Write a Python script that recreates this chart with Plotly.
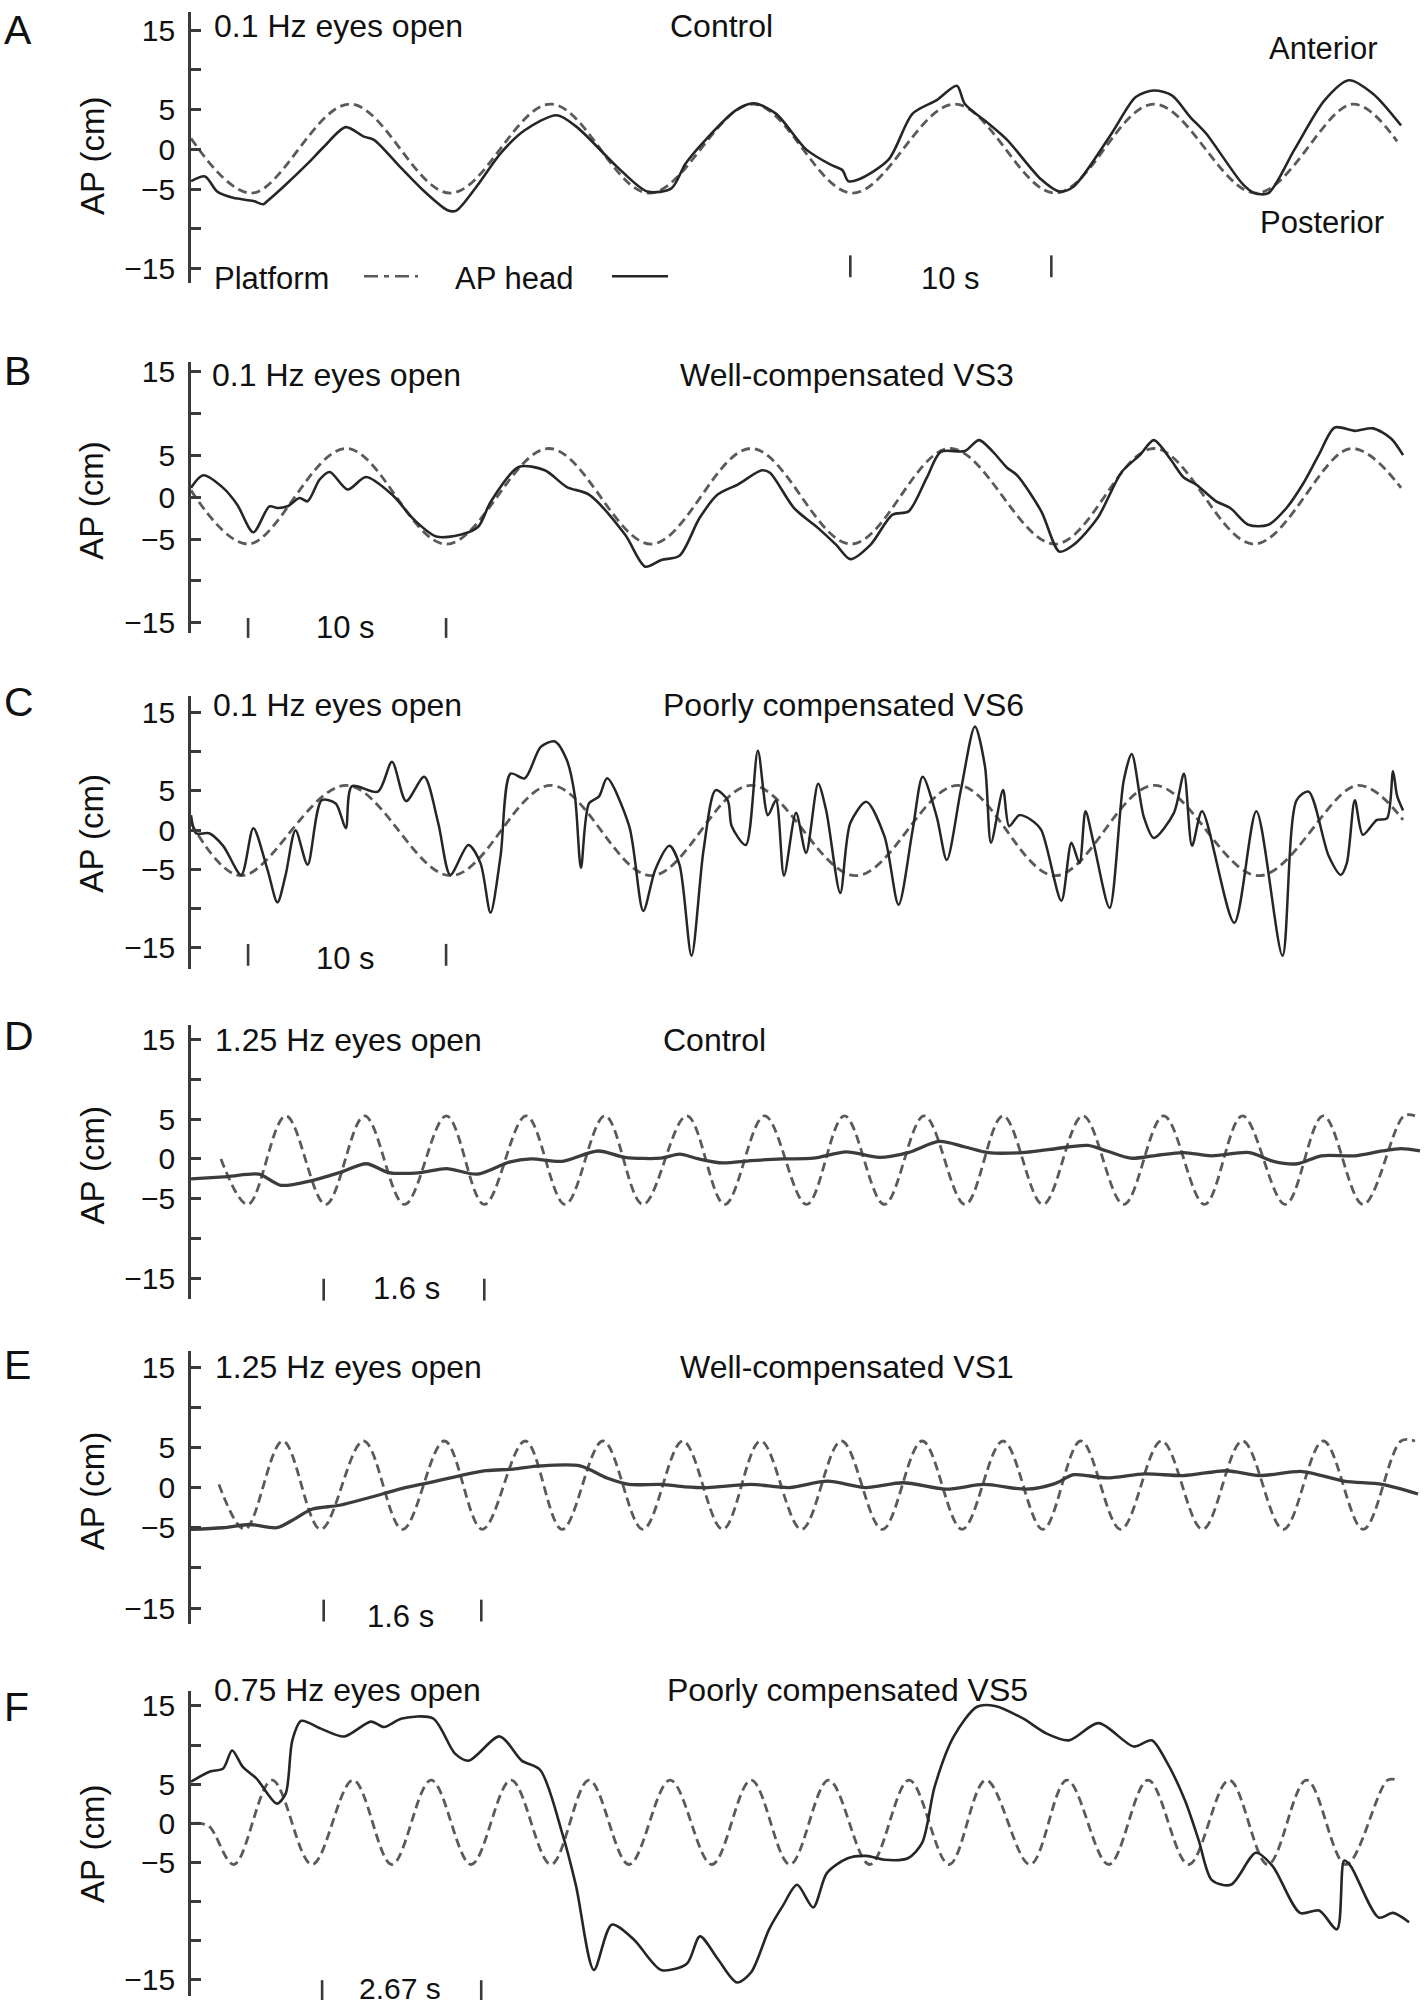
import plotly.graph_objects as go

W, H = 1424, 2015
FONT = "Liberation Sans, Arial, Helvetica, sans-serif"
SOLID_C = "#262626"
DASH_C = "#5a5a5a"
AXIS_C = "#3a3a3a"
TEXT_C = "#111111"

# ---------------- data (time in s, AP in cm) ----------------
# Panel A : 0.1 Hz, control
A_T = [0, 0.7, 1.3, 2.1, 3.1, 3.6, 3.8, 4.6, 5.8, 6.6, 7.7, 8.6, 9.1, 10.4, 11.7, 12.8, 13.2, 14.2,
       15.4, 16.6, 18.2, 19.2, 21.2, 22.7, 23.9, 24.6, 25.6, 27.1, 28.0, 29.1, 30.6, 31.8, 32.4, 32.7,
       33.2, 34.7, 35.9, 37.1, 38.1, 38.5, 39.7, 40.6, 42.3, 43.2, 43.9, 45.8, 47.0, 47.9, 48.8, 49.7,
       50.5, 52.3, 52.9, 53.6, 54.9, 56.4, 57.6, 58.8, 60.2]
A_HEAD = [-4.0, -3.4, -5.3, -6.1, -6.5, -6.9, -6.5, -4.7, -1.8, 0.3, 2.8, 1.6, 1.2, -2.2, -5.5, -7.7, -7.7, -4.7,
          -0.5, 2.4, 4.3, 2.8, -2.2, -5.3, -4.9, -1.8, 1.2, 4.9, 5.8, 4.5, 0.0, -1.9, -2.6, -4.0,
          -3.8, -1.3, 4.5, 6.2, 8.0, 5.7, 3.2, 1.2, -3.8, -5.3, -4.7, 2.0, 6.6, 7.4, 6.8, 4.1,
          2.0, -4.3, -5.5, -5.5, 0.0, 6.2, 8.7, 7.0, 3.0]
A_PLAT_T = [0, 3.0, 7.9, 12.9, 17.9, 22.8, 27.95, 32.9, 38.0, 43.0, 47.9, 53.0, 57.8, 60.0]
A_PLAT = [1.4, -5.5, 5.7, -5.5, 5.7, -5.5, 5.7, -5.5, 5.7, -5.5, 5.7, -5.5, 5.7, 1.0]

# Panel B : 0.1 Hz, well-compensated VS3
B_T = [0.0, 0.6, 1.6, 2.3, 3.1, 3.9, 4.3, 4.8, 5.4, 5.8, 6.4, 6.9, 7.8, 8.7, 10.0, 11.1, 12.2, 13.4,
       14.3, 14.9, 16.3, 17.6, 18.7, 19.8, 21.6, 22.6, 23.4, 24.3, 25.3, 26.2, 27.2, 28.4, 28.8, 30.0,
       31.2, 32.1, 32.8, 33.8, 34.9, 35.7, 36.6, 37.3, 38.5, 39.2, 39.9, 40.6, 41.1, 42.3, 43.2, 43.9,
       45.1, 46.3, 47.2, 47.9, 48.7, 49.4, 50.0, 51.0, 51.7, 52.6, 53.6, 54.5, 55.3, 56.1, 56.9, 57.9,
       58.8, 59.7, 60.3]
B_HEAD = [1.1, 2.6, 1.1, -0.9, -4.2, -1.1, -1.3, -1.1, -0.1, -0.5, 2.1, 3.0, 0.9, 2.4, 0.3, -2.7, -4.7, -4.5,
          -3.5, -0.6, 3.6, 3.2, 1.2, 0.3, -4.5, -8.3, -7.5, -7.0, -2.5, 0.3, 1.5, 3.2, 2.9, -1.3,
          -3.7, -5.7, -7.4, -5.7, -2.1, -1.7, 2.3, 5.4, 5.5, 6.8, 5.4, 3.5, 2.6, -1.7, -6.5, -5.7,
          -2.5, 3.0, 5.0, 6.8, 4.6, 2.3, 1.5, -0.5, -1.3, -3.3, -3.3, -1.3, 1.5, 5.0, 8.3, 7.9,
          8.2, 7.0, 5.0]
B_PLAT_T = [0, 2.84, 7.71, 12.69, 17.81, 22.89, 27.86, 32.84, 37.76, 42.99, 47.91, 52.89, 57.71, 60.2]
B_PLAT = [0.8, -5.6, 5.8, -5.6, 5.8, -5.6, 5.8, -5.6, 5.8, -5.6, 5.8, -5.6, 5.8, 1.1]

# Panel C : 0.1 Hz, poorly compensated VS6
C_T = [0.0, 0.25, 0.9, 1.6, 2.5, 3.1, 3.8, 4.3, 4.7, 5.2, 5.8, 6.5, 7.2, 7.7, 8.0, 9.3, 10.0, 10.7,
       11.6, 12.3, 12.9, 13.8, 14.4, 14.9, 15.4, 15.9, 16.6, 17.4, 18.1, 18.7, 19.1, 19.4, 19.8, 20.3,
       20.7, 21.8, 22.5, 23.1, 23.8, 24.3, 24.9, 25.5, 26.1, 26.7, 26.9, 27.6, 28.2, 28.7, 29.1, 29.5,
       30.1, 30.6, 31.2, 31.6, 32.3, 32.8, 33.6, 34.5, 35.2, 35.9, 36.4, 37.1, 37.6, 38.3, 39.0, 39.5,
       39.8, 40.4, 40.7, 41.2, 41.8, 42.3, 43.3, 43.8, 44.2, 44.5, 44.9, 45.7, 46.4, 46.8, 47.4, 47.9,
       48.9, 49.4, 49.8, 50.3, 51.9, 53.0, 54.3, 55.0, 55.6, 56.6, 57.2, 57.5, 57.9, 58.3, 59.0, 59.5,
       59.8, 60.0, 60.3]
C_HEAD = [1.9, -0.4, -0.4, -2.0, -5.7, 0.25, -5.0, -9.2, -5.8, 0.0, -4.4, 3.8, 3.4, 0.25, 5.6, 4.9, 8.7, 3.7,
          6.8, 0.9, -5.7, -1.9, -4.2, -10.5, -3.3, 7.2, 6.6, 10.6, 11.3, 8.9, 4.3, -4.8, 3.4, 4.3,
          6.6, 0.5, -10.3, -5.0, -2.0, -4.4, -16.0, -2.5, 5.1, 3.8, 0.5, -1.9, 10.1, 1.9, 3.8, -5.8,
          2.2, -2.9, 5.9, 2.5, -8.0, 0.9, 3.6, -0.8, -9.5, 0.0, 6.8, 1.7, -3.8, 5.1, 13.2, 8.1,
          -1.6, 5.1, 0.5, 1.9, 1.3, 0.0, -9.0, -1.6, -4.2, 2.4, -1.6, -9.9, 6.3, 9.7, 1.7, -1.0,
          2.2, 7.2, -2.0, 2.4, -11.8, 2.4, -16.0, 3.8, 4.9, -3.3, -5.7, -4.2, 3.8, -0.6, 1.3, 1.5,
          7.5, 4.4, 2.5]
C_PLAT_T = [0, 2.49, 7.71, 12.94, 17.91, 22.9, 27.86, 33.08, 38.16, 42.99, 47.91, 53.13, 58.06, 60.3]
C_PLAT = [0.9, -5.8, 5.7, -5.8, 5.7, -5.8, 5.7, -5.8, 5.7, -5.8, 5.7, -5.8, 5.7, 1.3]

# Panel D : 1.25 Hz, control
D_T = [0.0, 0.37, 0.68, 0.90, 1.21, 1.49, 1.76, 1.98, 2.30, 2.56, 2.87, 3.19, 3.41, 3.72, 4.08, 4.35,
       4.71, 4.90, 5.09, 5.33, 5.61, 5.94, 6.24, 6.57, 6.90, 7.19, 7.50, 7.76, 7.99, 8.33, 8.61, 8.99,
       9.18, 9.42, 9.65, 9.95, 10.23, 10.61, 10.85, 11.09, 11.33, 11.66, 11.94, 12.13, 12.32]
D_HEAD = [-2.5, -2.2, -1.9, -3.3, -2.7, -1.7, -0.6, -1.7, -1.7, -1.2, -1.9, -0.4, 0.0, -0.3, 1.0, 0.2,
          0.1, 0.6, 0.0, -0.5, -0.2, 0.0, 0.1, 0.9, 0.2, 0.8, 2.2, 1.5, 0.8, 0.8, 1.2, 1.7,
          1.0, 0.1, 0.4, 0.8, 0.4, 0.8, -0.3, -0.6, 0.4, 0.4, 1.0, 1.3, 1.0]
D_PLAT_T = [0.30, 0.57, 0.95, 1.35, 1.74, 2.14, 2.56, 2.94, 3.36, 3.75, 4.15, 4.53, 4.97, 5.35, 5.75,
            6.17, 6.55, 6.95, 7.35, 7.76, 8.14, 8.54, 8.94, 9.35, 9.75, 10.16, 10.54, 10.97, 11.35,
            11.75, 12.16, 12.27]
D_PLAT = [0.0, -5.7, 5.4, -5.7, 5.4, -5.7, 5.4, -5.7, 5.4, -5.7, 5.4, -5.7, 5.4, -5.7, 5.4,
          -5.7, 5.4, -5.7, 5.4, -5.7, 5.4, -5.7, 5.4, -5.7, 5.4, -5.7, 5.4, -5.7, 5.4,
          -5.7, 5.4, 5.4]

# Panel E : 1.25 Hz, well-compensated VS1
E_T = [0.0, 0.32, 0.59, 0.86, 1.04, 1.21, 1.49, 1.80, 2.12, 2.38, 2.70, 2.96, 3.23, 3.50, 3.90, 4.17,
       4.39, 4.71, 4.95, 5.18, 5.61, 6.00, 6.38, 6.76, 7.14, 7.57, 7.95, 8.37, 8.66, 8.85, 9.18, 9.56,
       9.95, 10.38, 10.71, 11.14, 11.56, 11.94, 12.30]
E_HEAD = [-5.2, -5.0, -4.6, -5.0, -3.9, -2.7, -2.2, -1.2, -0.1, 0.6, 1.5, 2.1, 2.3, 2.7, 2.7, 1.2,
          0.4, 0.4, 0.1, 0.0, 0.4, 0.0, 0.8, 0.0, 0.6, -0.2, 0.4, -0.2, 0.5, 1.6, 1.2, 1.7,
          1.5, 2.1, 1.5, 2.0, 0.8, 0.4, -0.8]
E_PLAT_T = [0.28, 0.54, 0.92, 1.30, 1.73, 2.12, 2.54, 2.92, 3.35, 3.72, 4.13, 4.53, 4.93, 5.33, 5.71,
            6.12, 6.52, 6.93, 7.33, 7.73, 8.14, 8.54, 8.92, 9.32, 9.73, 10.14, 10.54, 10.95, 11.35,
            11.75, 12.13, 12.27]
E_PLAT = [0.4, -5.2, 5.8, -5.2, 5.8, -5.2, 5.8, -5.2, 5.8, -5.2, 5.8, -5.2, 5.8, -5.2, 5.8,
          -5.2, 5.8, -5.2, 5.8, -5.2, 5.8, -5.2, 5.8, -5.2, 5.8, -5.2, 5.8, -5.2, 5.8,
          -5.2, 5.8, 5.8]

# Panel F : 0.75 Hz, poorly compensated VS5
F_T = [0.0, 0.32, 0.54, 0.69, 0.87, 1.10, 1.44, 1.59, 1.70, 1.85, 2.18, 2.57, 3.02, 3.24, 3.54, 4.06,
       4.43, 4.66, 5.18, 5.55, 5.86, 6.23, 6.46, 6.76, 7.06, 7.43, 7.89, 8.32, 8.54, 8.84, 9.16, 9.40,
       9.70, 9.93, 10.17, 10.44, 10.67, 11.02, 11.33, 11.64, 12.03, 12.27, 12.48, 12.80, 13.19, 13.49,
       13.96, 14.35, 14.73, 15.23, 15.82, 16.12, 16.36, 16.68, 16.91, 17.13, 17.45, 17.87, 18.15, 18.61,
       18.93, 19.23, 19.35, 19.46, 19.93, 20.17, 20.44]
F_HEAD = [5.3, 6.6, 7.0, 9.3, 7.2, 5.7, 2.5, 3.8, 10.6, 13.1, 12.1, 11.1, 13.0, 12.3, 13.4, 13.4,
          8.9, 8.0, 11.1, 8.0, 6.8, -1.3, -8.0, -18.8, -13.0, -14.9, -18.8, -18.0, -14.5, -17.4, -20.4, -19.1,
          -13.6, -10.6, -7.9, -10.8, -6.4, -4.5, -4.2, -4.7, -4.5, -2.5, 4.7, 11.1, 14.9, 15.0,
          13.4, 11.5, 10.6, 12.8, 9.8, 10.6, 8.0, 2.9, -2.2, -7.3, -7.9, -3.8, -5.5, -11.5,
          -11.2, -13.6, -4.8, -5.5, -12.1, -11.5, -12.7]
F_PLAT_T = [0.08, 0.30, 0.72, 1.36, 2.03, 2.72, 3.37, 4.03, 4.70, 5.37, 6.04, 6.68, 7.35, 8.04, 8.74,
            9.40, 10.05, 10.70, 11.39, 12.05, 12.72, 13.34, 14.08, 14.70, 15.40, 16.06, 16.74, 17.42,
            18.07, 18.72, 19.38, 20.08, 20.24]
F_PLAT = [0.0, -0.4, -5.3, 5.5, -5.3, 5.5, -5.3, 5.5, -5.3, 5.5, -5.3, 5.5, -5.3, 5.5, -5.3,
          5.5, -5.3, 5.5, -5.3, 5.5, -5.3, 5.5, -5.3, 5.5, -5.3, 5.5, -5.3, 5.5,
          -5.3, 5.5, -5.3, 5.5, 5.5]

YTICKS = [-15, -10, -5, 0, 5, 10, 15]
YTICKTEXT = ["\u221215", "", "\u22125", "0", "5", "", "15"]
F_YTICKS = [-20, -15, -10, -5, 0, 5, 10, 15]
F_YTICKTEXT = ["\u221215", "", "", "\u22125", "0", "5", "", "15"]

LETTERS = ["A", "B", "C", "D", "E", "F"]
LEFT_TITLES = ["0.1 Hz eyes open", "0.1 Hz eyes open", "0.1 Hz eyes open",
               "1.25 Hz eyes open", "1.25 Hz eyes open", "0.75 Hz eyes open"]
RIGHT_TITLES = ["Control", "Well-compensated VS3", "Poorly compensated VS6",
                "Control", "Well-compensated VS1", "Poorly compensated VS5"]
SCALE_LABELS = ["10 s", "10 s", "10 s", "1.6 s", "1.6 s", "2.67 s"]
SCALE_BARS = [(32.8, 42.8), (2.84, 12.69), (2.84, 12.69), (1.33, 2.94), (1.33, 2.91), (2.20, 4.87)]
SCALE_TEXT_X = [37.8, 7.7, 7.7, 2.16, 2.10, 3.51]

# ---------------- layout geometry (pixels) ----------------
X0 = 191  # y-axis line position
panels = [
    dict(t=A_T, v=A_HEAD, pt=A_PLAT_T, pv=A_PLAT, xmax=61.34, top=5, bot=278, yr=[-16.84, 17.29],
         tv=YTICKS, tt=YTICKTEXT, ty=19, lx=212, rx=668, let_y=23, lab_y=150, sb_y=(250, 272), sbt_y=273, lw=2.6),
    dict(t=B_T, v=B_HEAD, pt=B_PLAT_T, pv=B_PLAT, xmax=61.34, top=357, bot=630, yr=[-16.2, 16.15],
         tv=YTICKS, tt=YTICKTEXT, ty=370, lx=210, rx=678, let_y=366, lab_y=497, sb_y=(615, 635), sbt_y=625, lw=2.6),
    dict(t=C_T, v=C_HEAD, pt=C_PLAT_T, pv=C_PLAT, xmax=61.34, top=693, bot=968, yr=[-17.66, 17.15],
         tv=YTICKS, tt=YTICKTEXT, ty=703, lx=211, rx=661, let_y=700, lab_y=832, sb_y=(943, 965), sbt_y=958, lw=2.5),
    dict(t=D_T, v=D_HEAD, pt=D_PLAT_T, pv=D_PLAT, xmax=12.36, top=1025, bot=1300, yr=[-17.5, 16.74],
         tv=YTICKS, tt=YTICKTEXT, ty=1040, lx=213, rx=661, let_y=1036, lab_y=1166, sb_y=(1280, 1302), sbt_y=1290, lw=3.3),
    dict(t=E_T, v=E_HEAD, pt=E_PLAT_T, pv=E_PLAT, xmax=12.36, top=1353, bot=1627, yr=[-16.93, 16.98],
         tv=YTICKS, tt=YTICKTEXT, ty=1369, lx=213, rx=678, let_y=1367, lab_y=1494, sb_y=(1603, 1625), sbt_y=1620, lw=3.3),
    dict(t=F_T, v=F_HEAD, pt=F_PLAT_T, pv=F_PLAT, xmax=20.69, top=1695, bot=2002, yr=[-22.15, 16.91],
         tv=F_YTICKS, tt=F_YTICKTEXT, ty=1694, lx=212, rx=665, let_y=1711, lab_y=1849, sb_y=(1986, 2006), sbt_y=1994, lw=2.6),
]


def py(px):
    return 1 - px / H


def pxx(px):
    return px / W


fig = go.Figure()
layout = {}
shapes = []
annotations = []

for i, p in enumerate(panels):
    n = "" if i == 0 else str(i + 1)
    xa, ya = "x" + n, "y" + n
    fig.add_trace(go.Scatter(
        x=p["pt"], y=p["pv"], mode="lines", xaxis=xa, yaxis=ya, showlegend=False, hoverinfo="skip",
        line=dict(color=DASH_C, width=2.8, dash="9px,5px", shape="spline", smoothing=1.0)))
    fig.add_trace(go.Scatter(
        x=p["t"], y=p["v"], mode="lines", xaxis=xa, yaxis=ya, showlegend=False, hoverinfo="skip",
        line=dict(color=SOLID_C if p["lw"] < 3 else "#3c3c3c", width=p["lw"], shape="spline", smoothing=0.8)))

    layout["xaxis" + n] = dict(domain=[X0 / W, 1], range=[0, p["xmax"]], anchor=ya, visible=False,
                               showgrid=False, zeroline=False, fixedrange=True)
    layout["yaxis" + n] = dict(
        domain=[py(p["bot"]), py(p["top"])], range=p["yr"], anchor=xa,
        showline=True, linecolor=AXIS_C, linewidth=2.6, mirror=False,
        ticks="inside", ticklen=10, tickwidth=2.6, tickcolor=AXIS_C,
        tickmode="array", tickvals=p["tv"], ticktext=p["tt"],
        tickfont=dict(family=FONT, size=30, color=TEXT_C), ticklabelstandoff=7,
        showgrid=False, zeroline=False, fixedrange=True)

    # scale bar
    for xv in SCALE_BARS[i]:
        shapes.append(dict(type="line", xref=xa, yref="paper", x0=xv, x1=xv,
                           y0=py(p["sb_y"][0]), y1=py(p["sb_y"][1]),
                           line=dict(color=AXIS_C, width=2.6)))
    annotations.append(dict(text=SCALE_LABELS[i], xref=xa, yref="paper", x=SCALE_TEXT_X[i], y=py(p["sbt_y"]),
                            xanchor="center", yanchor="middle", showarrow=False,
                            font=dict(family=FONT, size=30 if i == 5 else 31, color=TEXT_C)))
    # titles
    annotations.append(dict(text=LEFT_TITLES[i], xref="paper", yref="paper", x=pxx(p["lx"]), y=py(p["ty"]),
                            xanchor="left", yanchor="middle", showarrow=False,
                            font=dict(family=FONT, size=32, color=TEXT_C)))
    annotations.append(dict(text=RIGHT_TITLES[i], xref="paper", yref="paper", x=pxx(p["rx"]), y=py(p["ty"]),
                            xanchor="left", yanchor="middle", showarrow=False,
                            font=dict(family=FONT, size=32, color=TEXT_C)))
    annotations.append(dict(text=LETTERS[i], xref="paper", yref="paper", x=pxx(2), y=py(p["let_y"]),
                            xanchor="left", yanchor="middle", showarrow=False,
                            font=dict(family=FONT, size=41, color=TEXT_C)))
    annotations.append(dict(text="AP (cm)", xref="paper", yref="paper", x=pxx(92), y=py(p["lab_y"]),
                            xanchor="center", yanchor="middle", textangle=-90, showarrow=False,
                            font=dict(family=FONT, size=33, color=TEXT_C)))

# Panel A extras: anterior/posterior and legend
annotations.append(dict(text="Anterior", xref="paper", yref="paper", x=pxx(1323), y=py(42),
                        xanchor="center", yanchor="middle", showarrow=False,
                        font=dict(family=FONT, size=31, color=TEXT_C)))
annotations.append(dict(text="Posterior", xref="paper", yref="paper", x=pxx(1322), y=py(217),
                        xanchor="center", yanchor="middle", showarrow=False,
                        font=dict(family=FONT, size=31, color=TEXT_C)))
annotations.append(dict(text="Platform", xref="paper", yref="paper", x=pxx(212), y=py(273),
                        xanchor="left", yanchor="middle", showarrow=False,
                        font=dict(family=FONT, size=31, color=TEXT_C)))
annotations.append(dict(text="AP head", xref="paper", yref="paper", x=pxx(453), y=py(273),
                        xanchor="left", yanchor="middle", showarrow=False,
                        font=dict(family=FONT, size=31, color=TEXT_C)))
shapes.append(dict(type="line", xref="paper", yref="paper", x0=pxx(364), x1=pxx(418), y0=py(271), y1=py(271),
                   line=dict(color=DASH_C, width=2.6, dash="14px,6px,5px,6px")))
shapes.append(dict(type="line", xref="paper", yref="paper", x0=pxx(612), x1=pxx(668), y0=py(271), y1=py(271),
                   line=dict(color=SOLID_C, width=2.6)))

fig.update_layout(
    width=W, height=H, margin=dict(l=0, r=0, t=0, b=0),
    paper_bgcolor="white", plot_bgcolor="white",
    font=dict(family=FONT, color=TEXT_C),
    shapes=shapes, annotations=annotations, showlegend=False,
    **layout)

fig.write_html("out.html", config={"displayModeBar": False},
               post_script="document.body.style.margin='0px';document.body.style.overflow='hidden';")
